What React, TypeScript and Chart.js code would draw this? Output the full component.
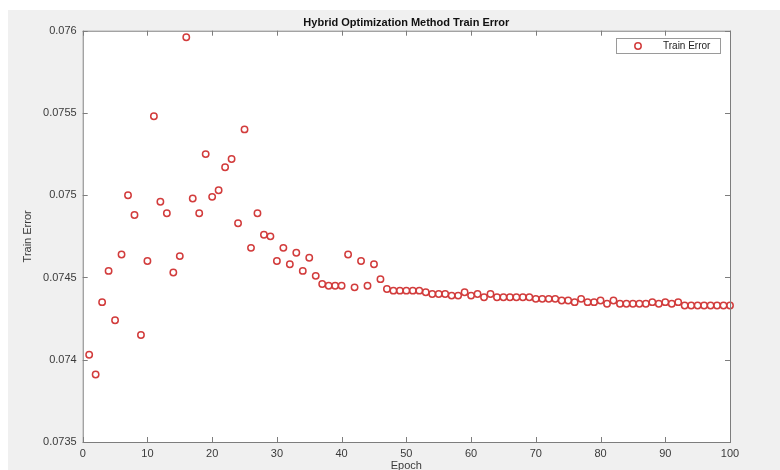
import React, { useEffect, useRef } from "react";
import { Chart, registerables } from "chart.js";

Chart.register(...registerables);

const epochs = [
  1, 2, 3, 4, 5, 6, 7, 8, 9, 10, 11, 12, 13, 14, 15, 16, 17, 18, 19, 20,
  21, 22, 23, 24, 25, 26, 27, 28, 29, 30, 31, 32, 33, 34, 35, 36, 37, 38, 39, 40,
  41, 42, 43, 44, 45, 46, 47, 48, 49, 50, 51, 52, 53, 54, 55, 56, 57, 58, 59, 60,
  61, 62, 63, 64, 65, 66, 67, 68, 69, 70, 71, 72, 73, 74, 75, 76, 77, 78, 79, 80,
  81, 82, 83, 84, 85, 86, 87, 88, 89, 90, 91, 92, 93, 94, 95, 96, 97, 98, 99, 100,
];

const trainError = [
  0.07403, 0.07391, 0.07435, 0.07454, 0.07424, 0.07464, 0.075, 0.07488, 0.07415, 0.0746,
  0.07548, 0.07496, 0.07489, 0.07453, 0.07463, 0.07596, 0.07498, 0.07489, 0.07525, 0.07499,
  0.07503, 0.07517, 0.07522, 0.07483, 0.0754, 0.07468, 0.07489, 0.07476, 0.07475, 0.0746,
  0.07468, 0.07458, 0.07465, 0.07454, 0.07462, 0.07451, 0.07446, 0.07445, 0.07445, 0.07445,
  0.07464, 0.07444, 0.0746, 0.07445, 0.07458, 0.07449, 0.07443, 0.07442, 0.07442, 0.07442,
  0.07442, 0.07442, 0.07441, 0.0744, 0.0744, 0.0744, 0.07439, 0.07439, 0.07441, 0.07439,
  0.0744, 0.07438, 0.0744, 0.07438, 0.07438, 0.07438, 0.07438, 0.07438, 0.07438, 0.07437,
  0.07437, 0.07437, 0.07437, 0.07436, 0.07436, 0.07435, 0.07437, 0.07435, 0.07435, 0.07436,
  0.07434, 0.07436, 0.07434, 0.07434, 0.07434, 0.07434, 0.07434, 0.07435, 0.07434, 0.07435,
  0.07434, 0.07435, 0.07433, 0.07433, 0.07433, 0.07433, 0.07433, 0.07433, 0.07433, 0.07433,
];

const xTicks = [0, 10, 20, 30, 40, 50, 60, 70, 80, 90, 100];
const yTicks = [0.0735, 0.074, 0.0745, 0.075, 0.0755, 0.076];

const titleText = "Hybrid Optimization Method Train Error";
const xLabel = "Epoch";
const yLabel = "Train Error";
const seriesName = "Train Error";

const FONT = '"Liberation Sans", Arial, Helvetica, sans-serif';
const MARKER = "#d23c3c";
const AXIS = "#7d7d7d";
const TEXT = "#3a3a3a";

// MATLAB-like axes box, inward ticks, title, labels and legend
const figurePlugin = {
  id: "figureDecor",
  beforeDraw(chart: any) {
    const { ctx, chartArea: a } = chart;
    ctx.save();
    ctx.fillStyle = "#ffffff";
    ctx.fillRect(a.left, a.top, a.right - a.left, a.bottom - a.top);
    ctx.restore();
  },
  afterDraw(chart: any) {
    const { ctx, chartArea: a, scales } = chart;
    const xs = scales.x;
    const ys = scales.y;
    ctx.save();
    ctx.strokeStyle = AXIS;
    ctx.lineWidth = 1;
    ctx.strokeRect(a.left + 0.5, a.top + 0.5, a.right - a.left, a.bottom - a.top);

    const tl = 5;
    ctx.beginPath();
    xTicks.forEach((v) => {
      const px = Math.round(xs.getPixelForValue(v)) + 0.5;
      ctx.moveTo(px, a.bottom);
      ctx.lineTo(px, a.bottom - tl);
      ctx.moveTo(px, a.top);
      ctx.lineTo(px, a.top + tl);
    });
    yTicks.forEach((v) => {
      const py = Math.round(ys.getPixelForValue(v)) + 0.5;
      ctx.moveTo(a.left, py);
      ctx.lineTo(a.left + tl, py);
      ctx.moveTo(a.right, py);
      ctx.lineTo(a.right - tl, py);
    });
    ctx.stroke();

    const cx = (a.left + a.right) / 2;
    ctx.fillStyle = "#111111";
    ctx.font = `bold 11px ${FONT}`;
    ctx.textAlign = "center";
    ctx.textBaseline = "middle";
    ctx.fillText(titleText, cx, 13);

    ctx.fillStyle = TEXT;
    ctx.font = `11px ${FONT}`;
    ctx.fillText(xLabel, cx, 456);

    ctx.save();
    ctx.translate(20, (a.top + a.bottom) / 2);
    ctx.rotate(-Math.PI / 2);
    ctx.fillText(yLabel, 0, 0);
    ctx.restore();

    // legend
    const lx = 608, ly = 28, lw = 104, lh = 15;
    ctx.fillStyle = "#ffffff";
    ctx.fillRect(lx, ly, lw, lh);
    ctx.strokeStyle = "#9a9a9a";
    ctx.strokeRect(lx + 0.5, ly + 0.5, lw, lh);
    ctx.strokeStyle = MARKER;
    ctx.lineWidth = 1.5;
    ctx.beginPath();
    ctx.arc(lx + 22, ly + 8, 3.2, 0, Math.PI * 2);
    ctx.stroke();
    ctx.fillStyle = "#222222";
    ctx.font = `10px ${FONT}`;
    ctx.textAlign = "left";
    ctx.fillText(seriesName, lx + 47, ly + 8.5);
    ctx.restore();
  },
};

export default function App() {
  const canvasRef = useRef<HTMLCanvasElement | null>(null);

  useEffect(() => {
    if (!canvasRef.current) return;
    const points = epochs.map((e, i) => ({ x: e, y: trainError[i] }));
    const chart = new Chart(canvasRef.current, {
      type: "scatter",
      data: {
        datasets: [
          {
            label: seriesName,
            data: points,
            showLine: false,
            pointStyle: "circle",
            pointRadius: 3.2,
            pointBorderWidth: 1.5,
            pointBorderColor: MARKER,
            pointBackgroundColor: "rgba(0,0,0,0)",
            clip: false,
          },
        ],
      },
      options: {
        animation: false,
        responsive: false,
        devicePixelRatio: 1,
        layout: { padding: { left: 0, top: 20.7, right: 50, bottom: 0 } },
        plugins: {
          legend: { display: false },
          title: { display: false },
          tooltip: { enabled: false },
        },
        scales: {
          x: {
            type: "linear",
            min: 0,
            max: 100,
            afterFit: (s: any) => {
              s.height = 28;
            },
            afterBuildTicks: (s: any) => {
              s.ticks = xTicks.map((v) => ({ value: v }));
            },
            grid: { display: false, drawTicks: false },
            border: { display: false },
            ticks: {
              padding: 5,
              color: TEXT,
              font: { family: FONT, size: 11 },
              maxRotation: 0,
              callback: (v: any) => String(v),
            },
          },
          y: {
            type: "linear",
            min: 0.0735,
            max: 0.076,
            afterFit: (s: any) => {
              s.width = 74.7;
            },
            afterBuildTicks: (s: any) => {
              s.ticks = yTicks.map((v) => ({ value: v }));
            },
            grid: { display: false, drawTicks: false },
            border: { display: false },
            ticks: {
              padding: 6,
              color: TEXT,
              font: { family: FONT, size: 11 },
              callback: (v: any) => String(Number(Number(v).toFixed(4))),
            },
          },
        },
      },
      plugins: [figurePlugin],
    });
    return () => chart.destroy();
  }, []);

  return (
    <div
      style={{
        position: "fixed",
        left: 8,
        top: 10,
        width: 772,
        height: 460,
        background: "#f0f0f0",
        overflow: "hidden",
      }}
    >
      <canvas ref={canvasRef} width={772} height={460} style={{ display: "block" }} />
    </div>
  );
}
